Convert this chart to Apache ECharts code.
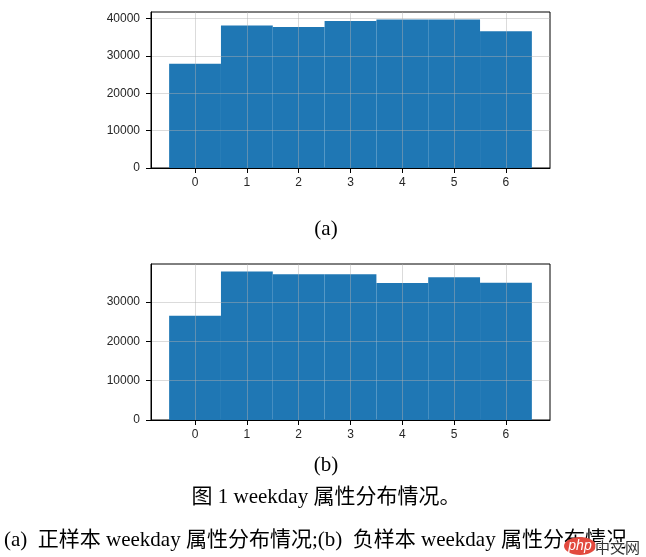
<!DOCTYPE html>
<html>
<head>
<meta charset="utf-8">
<script src="https://cdn.jsdelivr.net/npm/echarts@6/dist/echarts.min.js"></script>
<style>
html,body{margin:0;padding:0;background:#fff;}
#chart{width:646px;height:557px;}
</style>
</head>
<body>
<div id="chart"></div>
<script>
const weekdays = [0, 1, 2, 3, 4, 5, 6];
const positiveCounts = [27900, 38200, 37750, 39350, 39800, 39800, 36650];
const negativeCounts = [26500, 37750, 37050, 37050, 34800, 36300, 34850];
const yTicksA = [0, 10000, 20000, 30000, 40000];
const yTicksB = [0, 10000, 20000, 30000];
const labelA = '(a)';
const labelB = '(b)';
const figCaption = '图 1 weekday 属性分布情况。';
const subCaption = '(a)  正样本 weekday 属性分布情况;(b)  负样本 weekday 属性分布情况';

const chart = echarts.init(document.getElementById('chart'), null, {renderer: 'canvas'});
const tickFont = {fontFamily: 'Liberation Sans, Arial, sans-serif', fontSize: 12, color: '#262626'};
const gridLine = {show: true, lineStyle: {color: 'rgba(176,176,176,0.45)', width: 1}};

function xAxisCfg(gi) {
  return {
    type: 'value', gridIndex: gi, min: -0.85, max: 6.85, z: 3,
    axisLine: {show: true, onZero: false, lineStyle: {color: '#000', width: 1}},
    axisTick: {show: true, length: 5, lineStyle: {color: '#000'}, customValues: weekdays},
    axisLabel: Object.assign({margin: 9, customValues: weekdays, formatter: v => String(v)}, tickFont),
    splitLine: gridLine
  };
}
function yAxisCfg(gi, data, ticks) {
  return {
    type: 'value', gridIndex: gi, min: 0, max: Math.max(...data) * 1.05, z: 3,
    axisLine: {show: true, onZero: false, lineStyle: {color: '#000', width: 1}},
    axisTick: {show: true, length: 5, lineStyle: {color: '#000'}, customValues: ticks},
    axisLabel: Object.assign({margin: 11, customValues: ticks, formatter: v => String(v)}, tickFont),
    splitLine: gridLine
  };
}
function histSeries(gi, data) {
  return {
    type: 'custom', xAxisIndex: gi, yAxisIndex: gi, z: 2,
    data: weekdays.map((d, i) => [d, data[i]]),
    encode: {x: 0, y: 1},
    renderItem: function (params, api) {
      const x = api.value(0), y = api.value(1);
      const p0 = api.coord([x - 0.5, y]);
      const p1 = api.coord([x + 0.5, 0]);
      return {type: 'rect', shape: {x: p0[0], y: p0[1], width: p1[0] - p0[0], height: p1[1] - p0[1]},
              style: {fill: '#1f77b4'}};
    }
  };
}
const serif = '"Liberation Serif", "Times New Roman", "Noto Sans CJK SC", serif';
const option = {
  animation: false,
  backgroundColor: '#fff',
  grid: [
    {left: 151, top: 12, width: 399, height: 156, show: true, borderColor: '#000', borderWidth: 1, backgroundColor: '#fff'},
    {left: 151, top: 264, width: 399, height: 156, show: true, borderColor: '#000', borderWidth: 1, backgroundColor: '#fff'}
  ],
  xAxis: [xAxisCfg(0), xAxisCfg(1)],
  yAxis: [yAxisCfg(0, positiveCounts, yTicksA), yAxisCfg(1, negativeCounts, yTicksB)],
  series: [histSeries(0, positiveCounts), histSeries(1, negativeCounts)],
  graphic: [
    {type: 'text', x: 326, y: 229, style: {text: labelA, font: '21px ' + serif, fill: '#000', align: 'center', verticalAlign: 'middle'}},
    {type: 'text', x: 326, y: 465, style: {text: labelB, font: '21px ' + serif, fill: '#000', align: 'center', verticalAlign: 'middle'}},
    {type: 'text', x: 326, y: 497, style: {text: figCaption, font: '21px ' + serif, fill: '#000', align: 'center', verticalAlign: 'middle'}},
    {type: 'text', x: 4, y: 540, style: {text: subCaption, font: '21px ' + serif, fill: '#000', align: 'left', verticalAlign: 'middle'}},
    {type: 'ellipse', shape: {cx: 580, cy: 546, rx: 16, ry: 9}, style: {fill: '#e2493e'}, z: 10},
    {type: 'text', x: 580, y: 546, z: 11, style: {text: 'php', font: 'italic 14px Liberation Sans, sans-serif', fill: '#fff', align: 'center', verticalAlign: 'middle'}},
    {type: 'text', x: 595, y: 547, z: 11, style: {text: '中文网', font: '15px "Noto Sans CJK SC", sans-serif', fill: '#333', stroke: '#fff', lineWidth: 2, align: 'left', verticalAlign: 'middle'}}
  ]
};
chart.setOption(option);
</script>
</body>
</html>
